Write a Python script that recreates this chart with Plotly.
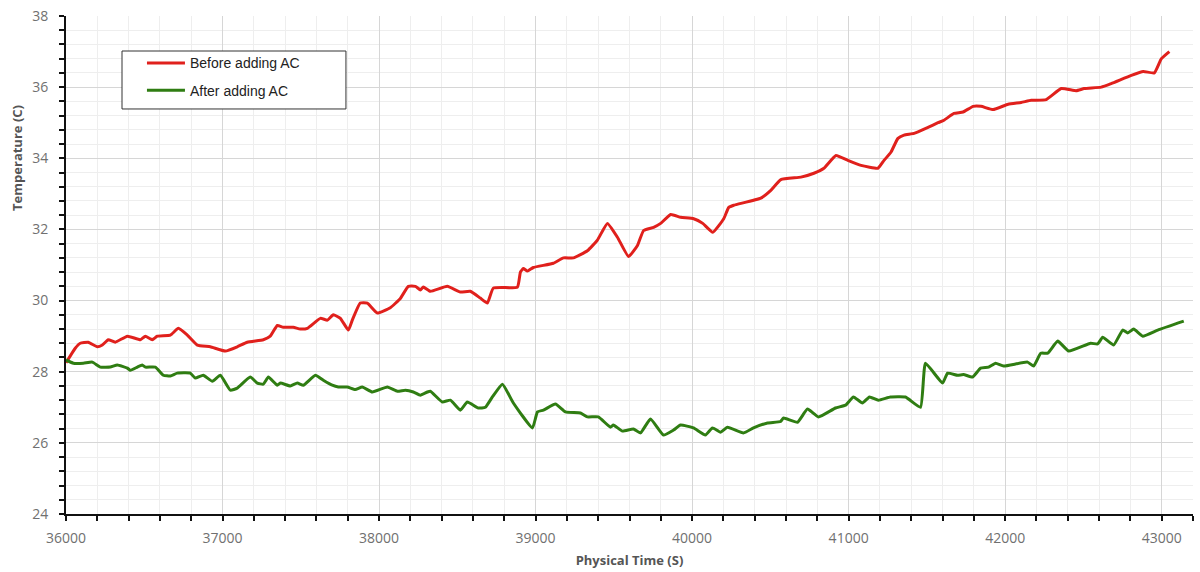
import plotly.graph_objects as go

# Temperature logs (time in seconds, temperature in °C)
before_time = [36000, 36059, 36091, 36142, 36200, 36232, 36270, 36315, 36392, 36475,
               36507, 36551, 36583, 36667, 36718, 36775, 36839, 36922, 37018, 37094,
               37158, 37261, 37305, 37350, 37388, 37452, 37497, 37542, 37625, 37670,
               37708, 37753, 37804, 37829, 37880, 37925, 37989, 38072, 38136, 38187,
               38232, 38264, 38283, 38328, 38436, 38519, 38583, 38647, 38692, 38730,
               38884, 38903, 38922, 38948, 38986, 39114, 39178, 39242, 39331, 39395,
               39459, 39523, 39594, 39651, 39690, 39754, 39799, 39863, 39927, 40010,
               40068, 40132, 40202, 40234, 40266, 40439, 40503, 40567, 40695, 40778,
               40842, 40919, 40995, 41079, 41187, 41226, 41270, 41315, 41354, 41418,
               41507, 41571, 41609, 41673, 41731, 41795, 41846, 41923, 42019, 42102,
               42166, 42262, 42358, 42454, 42505, 42614, 42678, 42806, 42882, 42953,
               42998, 43049]
before_temp = [28.25, 28.66, 28.8, 28.83, 28.7, 28.75, 28.9, 28.83, 29.0, 28.9,
               29.0, 28.9, 29.0, 29.03, 29.22, 29.03, 28.75, 28.7, 28.58, 28.7,
               28.83, 28.9, 29.0, 29.3, 29.25, 29.25, 29.2, 29.22, 29.5, 29.45,
               29.6, 29.5, 29.17, 29.45, 29.93, 29.93, 29.65, 29.8, 30.06, 30.4,
               30.4, 30.3, 30.38, 30.26, 30.4, 30.24, 30.26, 30.07, 29.93, 30.35,
               30.38, 30.8, 30.9, 30.83, 30.93, 31.05, 31.2, 31.2, 31.4, 31.7,
               32.17, 31.78, 31.24, 31.55, 31.97, 32.06, 32.17, 32.42, 32.34, 32.3,
               32.17, 31.92, 32.3, 32.62, 32.68, 32.88, 33.1, 33.4, 33.47, 33.58,
               33.72, 34.08, 33.94, 33.8, 33.72, 33.94, 34.17, 34.56, 34.65, 34.7,
               34.87, 35.0, 35.07, 35.26, 35.3, 35.46, 35.46, 35.37, 35.52, 35.57,
               35.63, 35.65, 35.96, 35.9, 35.96, 36.0, 36.1, 36.33, 36.44, 36.4,
               36.8, 37.0]

after_time = [36000, 36047, 36111, 36168, 36219, 36283, 36328, 36392, 36411, 36456,
              36487, 36507, 36571, 36622, 36667, 36711, 36794, 36826, 36877, 36935,
              36986, 37050, 37094, 37177, 37222, 37261, 37293, 37350, 37369, 37433,
              37478, 37516, 37593, 37644, 37701, 37740, 37797, 37848, 37893, 37957,
              38053, 38117, 38168, 38219, 38264, 38309, 38328, 38404, 38456, 38519,
              38564, 38634, 38679, 38724, 38788, 38858, 38980, 39012, 39050, 39127,
              39191, 39287, 39331, 39401, 39478, 39497, 39555, 39625, 39670, 39734,
              39817, 39881, 39926, 40009, 40085, 40130, 40181, 40226, 40328, 40392,
              40482, 40565, 40584, 40673, 40737, 40807, 40916, 40980, 41031, 41088,
              41133, 41190, 41267, 41363, 41459, 41491, 41600, 41632, 41696, 41734,
              41792, 41843, 41894, 41939, 41990, 42143, 42182, 42227, 42272, 42336,
              42406, 42546, 42591, 42623, 42693, 42751, 42783, 42821, 42879, 42975,
              43141]
after_temp = [28.33, 28.24, 28.24, 28.27, 28.13, 28.13, 28.19, 28.1, 28.04, 28.13,
              28.19, 28.13, 28.13, 27.9, 27.88, 27.96, 27.96, 27.82, 27.9, 27.73,
              27.9, 27.48, 27.54, 27.85, 27.68, 27.65, 27.85, 27.62, 27.68, 27.6,
              27.68, 27.62, 27.9, 27.76, 27.62, 27.57, 27.57, 27.5, 27.57, 27.43,
              27.57, 27.45, 27.48, 27.43, 27.34, 27.43, 27.45, 27.15, 27.2, 26.92,
              27.15, 26.98, 27.0, 27.29, 27.65, 27.12, 26.42, 26.87, 26.92, 27.09,
              26.87, 26.84, 26.73, 26.73, 26.44, 26.5, 26.33, 26.39, 26.28, 26.67,
              26.22, 26.36, 26.5, 26.42, 26.22, 26.42, 26.3, 26.44, 26.28, 26.42,
              26.56, 26.6, 26.7, 26.58, 26.95, 26.73, 26.98, 27.06, 27.29, 27.12,
              27.29, 27.2, 27.29, 27.29, 27.0, 28.24, 27.68, 27.96, 27.9, 27.92,
              27.85, 28.1, 28.13, 28.24, 28.16, 28.27, 28.16, 28.52, 28.52, 28.86,
              28.58, 28.8, 28.78, 28.97, 28.75, 29.17, 29.09, 29.2, 29.0, 29.17,
              29.42]

x_range = [36000, 43200]
y_range = [24, 38]
x_major_step = 1000
x_minor_step = 200
y_major_step = 2
y_minor_step = 0.4

FONT = "Open Sans, Segoe UI, sans-serif"

fig = go.Figure()
fig.add_trace(go.Scatter(
    x=before_time, y=before_temp, mode="lines", name="Before adding AC",
    legendgroup="before",
    line=dict(color="#e0201c", width=3, shape="spline", smoothing=0.4),
))
fig.add_trace(go.Scatter(
    x=after_time, y=after_temp, mode="lines", name="After adding AC",
    legendgroup="after",
    line=dict(color="#2f7d12", width=3, shape="spline", smoothing=0.4),
))

axis_common = dict(
    showline=True, linecolor="#111111", linewidth=2,
    ticks="outside", ticklen=5, tickwidth=2, tickcolor="#111111",
    showgrid=True, gridcolor="#d6d6d6", gridwidth=1,
    zeroline=False, automargin=False,
    tickfont=dict(family=FONT, size=14, color="#707070"),
)

fig.update_xaxes(
    range=x_range, dtick=x_major_step, tick0=36000, tickformat="d",
    ticklabelstandoff=5,
    minor=dict(dtick=x_minor_step, ticks="outside", ticklen=5, tickwidth=2,
               tickcolor="#111111", showgrid=True, gridcolor="#eeeeee", gridwidth=1),
    title=dict(text="<b>Physical Time (S)</b>",
               font=dict(family=FONT, size=13, color="#555555"), standoff=10),
    **axis_common,
)
fig.update_yaxes(
    range=y_range, dtick=y_major_step, tick0=24, tickformat="d",
    ticklabelstandoff=8,
    minor=dict(dtick=y_minor_step, ticks="outside", ticklen=5, tickwidth=2,
               tickcolor="#111111", showgrid=True, gridcolor="#eeeeee", gridwidth=1),
    **axis_common,
)

# y-axis title placed in the upper part of the left margin
fig.add_annotation(
    text="<b>Temperature (C)</b>", textangle=-90,
    xref="paper", yref="paper", x=-0.0435, y=0.715,
    xanchor="center", yanchor="middle", showarrow=False,
    font=dict(family=FONT, size=13, color="#555555"),
)

# legend frame
fig.add_shape(
    type="rect", xref="paper", yref="paper",
    x0=0.0497, x1=0.2484, y0=0.8133, y1=0.9297,
    fillcolor="white", line=dict(color="#333333", width=1), layer="above",
)

fig.update_layout(
    width=1200, height=572,
    margin=dict(l=66, r=7, t=16, b=58),
    paper_bgcolor="white", plot_bgcolor="white",
    showlegend=True,
    legend=dict(
        x=0.0674, y=0.937, xanchor="left", yanchor="top",
        bgcolor="rgba(0,0,0,0)", borderwidth=0,
        font=dict(family="Arial, Liberation Sans, sans-serif", size=14, color="#222222"),
        itemwidth=38, tracegroupgap=6,
    ),
)

fig.write_html("out.html")
